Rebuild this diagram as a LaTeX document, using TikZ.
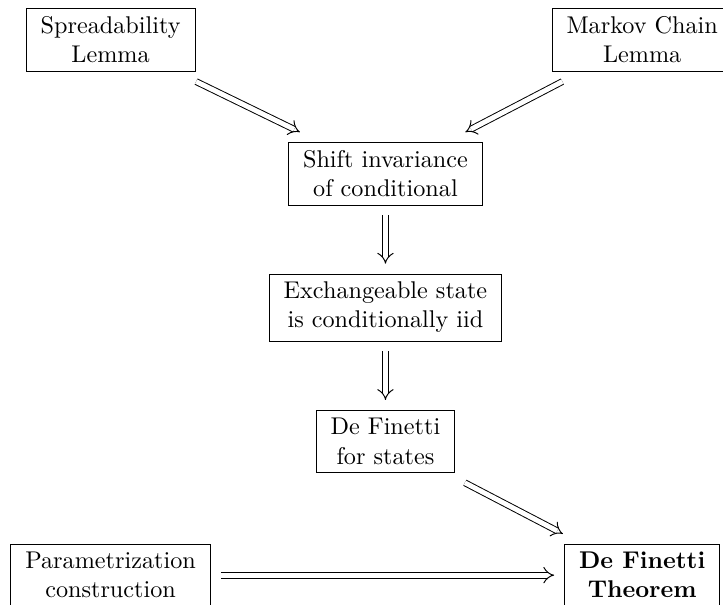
\documentclass[tikz,border=0pt]{standalone}
\usetikzlibrary{arrows.meta}

\begin{document}
\begin{tikzpicture}[
    x=1pt, y=1pt,
    % Style for the framed statements
    stmt/.style={draw, align=center, inner xsep=6pt, inner ysep=3.33pt, outer sep=4.3pt},
    % Style for the implication arrows
    implies arrow/.style={double, double distance=2pt, -{Implies}}
]

    % --- 1. Fix the frame (bottom boxes run off the page) ---
    \clip (0, 0) rectangle (298.8, -250);

    % --- 2. Define Coordinates ---
    \coordinate (spread_pos) at (45.7, -16.5);
    \coordinate (markov_pos) at (265.4, -16.5);
    \coordinate (shift_pos) at (159.3, -71.8);
    \coordinate (exch_pos) at (159.3, -127.1);
    \coordinate (states_pos) at (159.3, -182.4);
    \coordinate (param_pos) at (45.7, -237.7);
    \coordinate (theorem_pos) at (265.4, -237.7);

    % --- 3. Draw Nodes ---
    \node[stmt] (spread) at (spread_pos) {Spreadability\\Lemma};
    \node[stmt] (markov) at (markov_pos) {Markov Chain\\Lemma};
    \node[stmt] (shift) at (shift_pos) {Shift invariance\\of conditional};
    \node[stmt] (exch) at (exch_pos) {Exchangeable state\\is conditionally iid};
    \node[stmt] (states) at (states_pos) {De Finetti\\for states};
    \node[stmt] (param) at (param_pos) {Parametrization\\construction};
    \node[stmt, font=\bfseries] (theorem) at (theorem_pos) {De Finetti\\Theorem};

    % --- 4. Draw Implications ---
    \draw[implies arrow] (spread) -- (shift);
    \draw[implies arrow] (markov) -- (shift);
    \draw[implies arrow] (shift) -- (exch);
    \draw[implies arrow] (exch) -- (states);
    \draw[implies arrow] (states) -- (theorem);
    \draw[implies arrow] (param) -- (theorem);

\end{tikzpicture}
\end{document}
